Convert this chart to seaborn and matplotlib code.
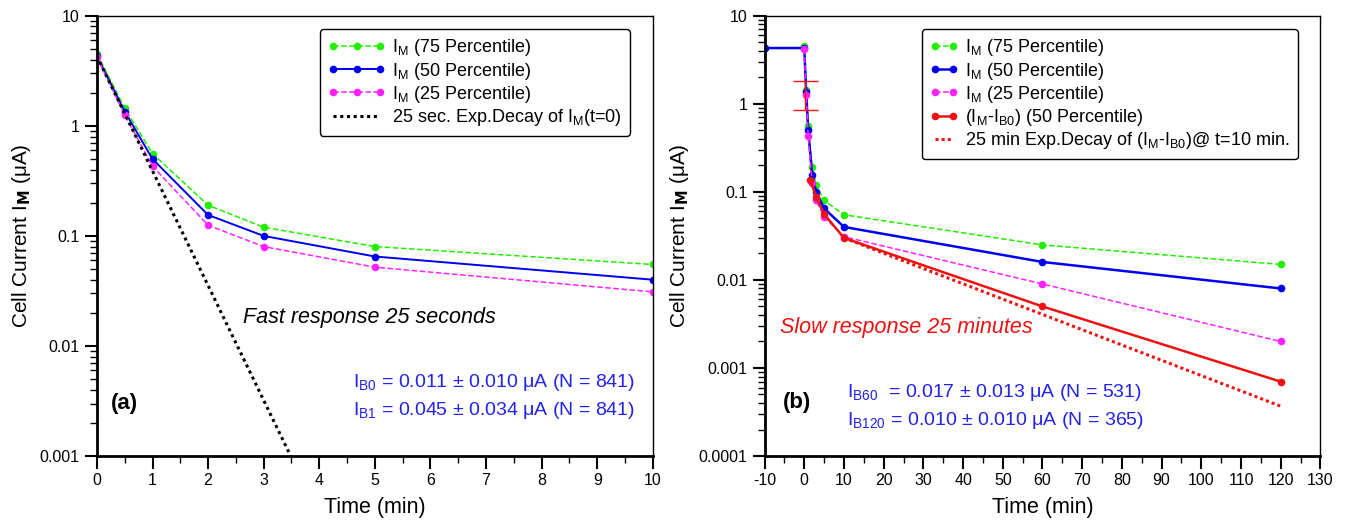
import numpy as np
import pandas as pd
import matplotlib
matplotlib.use("Agg")
import matplotlib.pyplot as plt
import matplotlib.ticker as mticker
import seaborn as sns

# ---- data (a): first 10 minutes ----
t_a = [0, 0.5, 1, 2, 3, 5, 10]
p75_a = [4.5, 1.45, 0.56, 0.19, 0.12, 0.080, 0.055]
p50_a = [4.3, 1.35, 0.50, 0.155, 0.100, 0.065, 0.040]
p25_a = [4.2, 1.25, 0.43, 0.125, 0.080, 0.052, 0.031]
tau_fast_min = 25 / 60.0   # 25 sec
i0_fast = 4.3

# ---- data (b): -10 .. 120 minutes ----
t_b = [0, 0.5, 1, 2, 3, 5, 10, 60, 120]
t_b50 = [-10, 0, 0.5, 1, 2, 3, 5, 10, 60, 120]
p75_b = [4.5, 1.45, 0.56, 0.19, 0.12, 0.080, 0.055, 0.025, 0.015]
p50_b = [4.3, 4.3, 1.35, 0.50, 0.155, 0.100, 0.065, 0.040, 0.016, 0.008]
p25_b = [4.2, 1.25, 0.43, 0.125, 0.080, 0.052, 0.031, 0.009, 0.002]
t_red = [1.5, 3, 5, 10, 60, 120]
diff_b = [0.137, 0.088, 0.056, 0.030, 0.005, 0.0007]
err_t = [0.2]
err_y = [1.25]
err_lo = [0.85]
err_hi = [1.8]
tau_slow = 25.0
i0_slow = 0.030

plt.rcParams["font.family"] = ["Liberation Sans", "DejaVu Sans"]
plt.rcParams["mathtext.fontset"] = "custom"
plt.rcParams["mathtext.rm"] = "Liberation Sans"
plt.rcParams["mathtext.it"] = "Liberation Sans:italic"
plt.rcParams["axes.unicode_minus"] = False

fig = plt.figure(figsize=(13.46, 5.26), dpi=100)
ax1 = fig.add_axes([0.072, 0.133, 0.413, 0.837])
ax2 = fig.add_axes([0.568, 0.133, 0.413, 0.837])

IM = r"$\mathregular{I_M}$"
kw = dict(marker="o", markersize=5.5, markeredgewidth=0, linewidth=1.1)


def style_axis(ax):
    ax.set_yscale("log")
    ax.yaxis.set_major_formatter(mticker.FuncFormatter(lambda v, p: f"{v:g}"))
    ax.yaxis.set_minor_formatter(mticker.NullFormatter())
    ax.yaxis.set_minor_locator(mticker.LogLocator(base=10, subs=np.arange(2, 10)))
    for s in ["left", "bottom"]:
        ax.spines[s].set_linewidth(2.0)
    for s in ["top", "right"]:
        ax.spines[s].set_linewidth(1.0)
    ax.tick_params(which="major", direction="out", length=9, width=1.5, labelsize=11.5)
    ax.tick_params(which="minor", direction="out", length=5, width=1.0)
    ax.set_xlabel("Time (min)", fontsize=15.5, labelpad=6)
    ax.set_ylabel(r"Cell Current I$_\mathregular{\mathbf{M}}$ (μA)", fontsize=15, labelpad=5)
    ax.grid(False)
    ax.set_facecolor("white")


def style_legend(ax, hl, npts):
    ax.legend(loc="upper right", bbox_to_anchor=(0.975, 0.99), fontsize=13,
              frameon=True, fancybox=True, edgecolor="black", framealpha=1,
              handlelength=hl, numpoints=npts, labelspacing=0.12, borderpad=0.45,
              handletextpad=0.35)
    ax.get_legend().get_frame().set_linewidth(1.0)


# ---- panel (a) ----
sns.lineplot(x=t_a, y=p75_a, ax=ax1, color="#22ee00", linestyle="--",
             label=IM + " (75 Percentile)", **kw)
sns.lineplot(x=t_a, y=p50_a, ax=ax1, color="#0000ee", linestyle="-",
             label=IM + " (50 Percentile)", **dict(kw, linewidth=1.4))
sns.lineplot(x=t_a, y=p25_a, ax=ax1, color="#ff22ff", linestyle="--",
             label=IM + " (25 Percentile)", **kw)
tt = np.linspace(0, 3.7, 60)
sns.lineplot(x=tt, y=i0_fast * np.exp(-tt / tau_fast_min), ax=ax1, color="black",
             linestyle=(0, (1, 1.2)), linewidth=2.2,
             label="25 sec. Exp.Decay of " + r"$\mathregular{I_M}$" + "(t=0)")
style_axis(ax1)
ax1.set_xlim(0, 10)
ax1.set_ylim(0.001, 10)
ax1.xaxis.set_major_locator(mticker.MultipleLocator(1))
ax1.xaxis.set_minor_locator(mticker.MultipleLocator(0.5))
style_legend(ax1, 3.2, 3)
ax1.text(0.25, 0.00303, "(a)", fontsize=16, fontweight="bold", va="center")
ax1.text(2.63, 0.018, "Fast response 25 seconds", fontsize=15.5, style="italic",
         va="center")
ax1.text(9.68, 0.00461, r"I$_\mathregular{B0}$ = 0.011 ± 0.010 μA (N = 841)",
         fontsize=14, color="#2222ee", ha="right", va="center")
ax1.text(9.68, 0.00262, r"I$_\mathregular{B1}$ = 0.045 ± 0.034 μA (N = 841)",
         fontsize=14, color="#2222ee", ha="right", va="center")

# ---- panel (b) ----
sns.lineplot(x=t_b, y=p75_b, ax=ax2, color="#22ee00", linestyle="--",
             label=IM + " (75 Percentile)", **kw)
sns.lineplot(x=t_b50, y=p50_b, ax=ax2, color="#0000ee", linestyle="-",
             label=IM + " (50 Percentile)", **dict(kw, linewidth=1.8))
sns.lineplot(x=t_b, y=p25_b, ax=ax2, color="#ff22ff", linestyle="--",
             label=IM + " (25 Percentile)", **kw)
sns.lineplot(x=t_red, y=diff_b, ax=ax2, color="#ee1111", linestyle="-",
             label=r"($\mathregular{I_M}$-$\mathregular{I_{B0}}$) (50 Percentile)",
             **dict(kw, linewidth=1.8))
ts = np.linspace(10, 120, 60)
sns.lineplot(x=ts, y=i0_slow * np.exp(-(ts - 10) / tau_slow), ax=ax2, color="#ee1111",
             linestyle=(0, (1, 1.0)), linewidth=2.2,
             label="25 min Exp.Decay of (" + r"$\mathregular{I_M}$-$\mathregular{I_{B0}}$" + ")@ t=10 min.")
ax2.errorbar(err_t, err_y,
             yerr=[[err_y[0] - err_lo[0]], [err_hi[0] - err_y[0]]],
             fmt="none", ecolor="#ee1111", elinewidth=1.0, capsize=9, capthick=1.0)
style_axis(ax2)
ax2.set_xlim(-10, 130)
ax2.set_ylim(0.0001, 10)
ax2.xaxis.set_major_locator(mticker.MultipleLocator(10))
ax2.xaxis.set_minor_locator(mticker.MultipleLocator(5))
style_legend(ax2, 1.6, 2)
ax2.text(-5.5, 0.00041, "(b)", fontsize=16, fontweight="bold", va="center")
ax2.text(-6.2, 0.00292, "Slow response 25 minutes", fontsize=15.5, style="italic",
         color="#ee1111", va="center")
ax2.text(10.85, 0.00052, r"I$_\mathregular{B60}$  = 0.017 ± 0.013 μA (N = 531)",
         fontsize=14, color="#2222ee", va="center")
ax2.text(10.85, 0.000256, r"I$_\mathregular{B120}$ = 0.010 ± 0.010 μA (N = 365)",
         fontsize=14, color="#2222ee", va="center")

fig.savefig("out.png", dpi=100, facecolor="white")
